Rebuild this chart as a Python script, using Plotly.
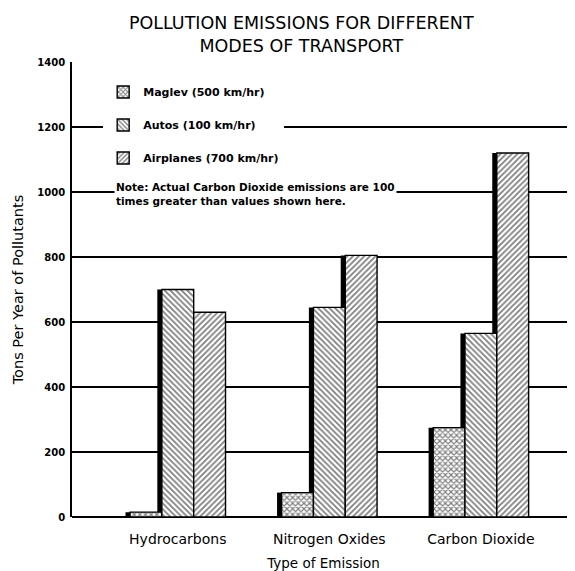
import plotly.graph_objects as go

categories = ["Hydrocarbons", "Nitrogen Oxides", "Carbon Dioxide"]
series_names = ["Maglev (500 km/hr)", "Autos (100 km/hr)", "Airplanes (700 km/hr)"]
maglev = [15, 75, 275]
autos = [700, 645, 565]
airplanes = [630, 805, 1120]
y_ticks = [0, 200, 400, 600, 800, 1000, 1200, 1400]
title_text = "POLLUTION EMISSIONS FOR DIFFERENT<br>MODES OF TRANSPORT"
note_text = "Note: Actual Carbon Dioxide emissions are 100<br>times greater than values shown here."

values = [maglev, autos, airplanes]
patterns = ["x", "\\", "/"]
pat_size = [4, 4, 4]
pat_sol = [0.5, 0.45, 0.45]

FONT = "DejaVu Sans, Liberation Sans, Arial, sans-serif"
w = 0.21
start = -0.315
shift = 0.03

fig = go.Figure()
# drop shadows
for i, vals in enumerate(values):
    fig.add_trace(go.Bar(
        x=categories, y=vals, width=w, offset=start + i * w - shift,
        marker=dict(color="black", line=dict(width=0)),
        showlegend=False, hoverinfo="skip"))
for i, vals in enumerate(values):
    fig.add_trace(go.Bar(
        x=categories, y=vals, width=w, offset=start + i * w, name=series_names[i],
        legendgroup="g%d" % i,
        marker=dict(color="white", line=dict(color="black", width=1.4),
                    pattern=dict(shape=patterns[i], fgcolor="black", bgcolor="white",
                                 size=pat_size[i], solidity=pat_sol[i], fillmode="overlay"))))

fig.update_layout(
    width=575, height=571,
    margin=dict(l=64, r=8, t=54, b=62),
    paper_bgcolor="white", plot_bgcolor="white",
    barmode="overlay",
    font=dict(family=FONT, color="black", size=11),
    title=dict(text=title_text, x=0.51, xanchor="center", y=0.963, yanchor="middle",
               font=dict(size=17.5, family=FONT)),
    legend=dict(x=0.062, y=0.966, xanchor="left", yanchor="top",
                bgcolor="white", font=dict(size=11, family=FONT, weight="bold"),
                tracegroupgap=14, itemwidth=30),
    xaxis=dict(range=[-0.698, 2.621], showgrid=False, showline=False, ticks="",
               automargin=False, ticklabelstandoff=12,
               title=dict(text="Type of Emission", font=dict(size=13.5), standoff=12),
               tickfont=dict(size=14)),
    yaxis=dict(range=[0, 1400], tickvals=y_ticks, showgrid=True, gridcolor="black",
               gridwidth=1.5, showline=True, linecolor="black", linewidth=1.6,
               zeroline=True, zerolinecolor="black", zerolinewidth=1.6, ticks="",
               automargin=False, ticklabelstandoff=3,
               title=dict(text="Tons Per Year of Pollutants", font=dict(size=14.5), standoff=10),
               tickfont=dict(size=10, weight="bold")),
    annotations=[
        dict(text=note_text, xref="paper", yref="paper", x=0.083, y=0.743,
             xanchor="left", yanchor="top", align="left", showarrow=False,
             bgcolor="white", font=dict(size=10.5, family=FONT, weight="bold")),
    ],
)

fig.write_html("out.html")
